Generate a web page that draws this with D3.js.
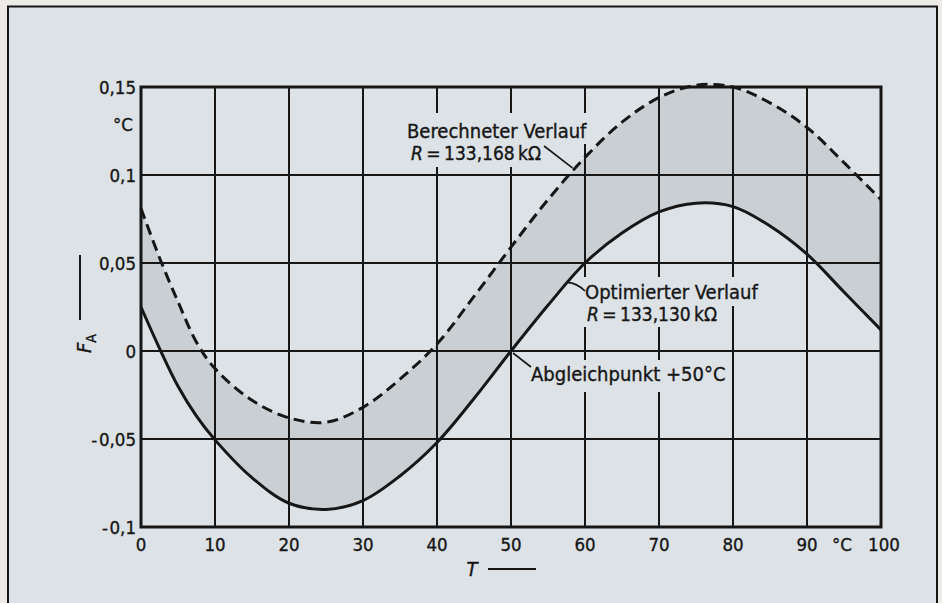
<!DOCTYPE html>
<html>
<head>
<meta charset="utf-8">
<script src="https://cdn.jsdelivr.net/npm/d3@7"></script>
<style>
  html, body { margin: 0; padding: 0; background: #ecebe7; }
  svg { display: block; }
  text { font-family: "DejaVu Sans Condensed", "DejaVu Sans", sans-serif; font-stretch: condensed;
         fill: #161616; stroke: #161616; stroke-width: 0.35px; }
</style>
</head>
<body>
<svg id="chart" width="942" height="603"></svg>
<script>
// Temperature grid (°C) on which both error curves are sampled
const temps = [0, 2.5, 5, 7.5, 10, 15, 20, 25, 30, 35, 40, 45, 50, 55, 60, 65, 70, 75, 80, 85, 90, 95, 100];
// Calculated course, R = 133,168 kΩ (dashed)
const calculated = [0.081, 0.053, 0.028, 0.005, -0.010, -0.028, -0.038, -0.0405, -0.032, -0.016, 0.004, 0.031, 0.059, 0.086, 0.110, 0.130, 0.144, 0.151, 0.150, 0.141, 0.127, 0.107, 0.086];
// Optimised course, R = 133,130 kΩ (solid)
const optimized = [0.025, 0.0015, -0.020, -0.037, -0.0505, -0.072, -0.0865, -0.090, -0.085, -0.071, -0.052, -0.027, 0.0, 0.026, 0.050, 0.067, 0.079, 0.084, 0.082, 0.071, 0.055, 0.0335, 0.012];

const xTicks = [0, 10, 20, 30, 40, 50, 60, 70, 80, 90, 100];
const xTickLabels = ["0", "10", "20", "30", "40", "50", "60", "70", "80", "90", "100"];
const yTicks = [-0.1, -0.05, 0, 0.05, 0.1, 0.15];
const yTickLabels = ["-\u200A0,1", "-\u200A0,05", "0", "0,05", "0,1", "0,15"];

// Annotation texts and the curve points their leaders touch (data units)
const calcNote = { lines: ["Berechneter Verlauf", "133,168 k\u03A9"], anchorT: 58.3, anchorV: 0.104 };
const optNote = { lines: ["Optimierter Verlauf", "133,130 k\u03A9"], anchorT: 57.6, anchorV: 0.039 };
const balanceNote = { text: "Abgleichpunkt +50\u00B0C", anchorT: 50, anchorV: 0 };

const svg = d3.select("#chart");
const H = 603;
const bg = "#dce2e6";
const shade = "#c9cfd3";
const ink = "#161616";
const fsTick = 18.5, fsNote = 20, fsR = 19;

const x = d3.scaleLinear().domain([0, 100]).range([141, 881]);
const y = d3.scaleLinear().domain([-0.1, 0.15]).range([527, 87]);

// Sheet background and outer frame
svg.append("rect").attr("x", 8).attr("y", 6).attr("width", 929).attr("height", H - 6).attr("fill", bg);
svg.append("path")
  .attr("d", `M8,${H} V6.5 H937 V${H}`)
  .attr("fill", "none").attr("stroke", ink).attr("stroke-width", 2);

// Band between the two curves
const rows = temps.map((t, i) => ({ t, c: calculated[i], o: optimized[i] }));
const curve = d3.curveCatmullRom.alpha(0.5);
svg.append("path")
  .datum(rows)
  .attr("fill", shade)
  .attr("d", d3.area().curve(curve).x(d => x(d.t)).y0(d => y(d.o)).y1(d => y(d.c)));

// Grid
const grid = svg.append("g").attr("stroke", ink).attr("stroke-width", 2);
grid.selectAll("line.v").data(xTicks).join("line")
  .attr("x1", d => x(d)).attr("x2", d => x(d))
  .attr("y1", y(0.15)).attr("y2", y(-0.1));
grid.selectAll("line.h").data(yTicks).join("line")
  .attr("x1", x(0)).attr("x2", x(100))
  .attr("y1", d => y(d)).attr("y2", d => y(d));
svg.append("rect")
  .attr("x", x(0)).attr("y", y(0.15))
  .attr("width", x(100) - x(0)).attr("height", y(-0.1) - y(0.15))
  .attr("fill", "none").attr("stroke", ink).attr("stroke-width", 3);

// Label backgrounds interrupt the grid
const knock = [
  [400, 113, 194, 31], [403, 140, 136, 27],
  [578, 277, 196, 29], [580, 303, 143, 24],
  [526, 360, 200, 32]
];
svg.selectAll("rect.knock").data(knock).join("rect")
  .attr("x", d => d[0]).attr("y", d => d[1]).attr("width", d => d[2]).attr("height", d => d[3])
  .attr("fill", bg);

// Curves
const line = (key) => d3.line().curve(curve).x(d => x(d.t)).y(d => y(d[key]));
svg.append("path").datum(rows)
  .attr("fill", "none").attr("stroke", ink).attr("stroke-width", 3)
  .attr("stroke-dasharray", "11 6")
  .attr("d", line("c"));
svg.append("path").datum(rows)
  .attr("fill", "none").attr("stroke", ink).attr("stroke-width", 3)
  .attr("d", line("o"));

// Axis tick labels
svg.selectAll("text.yt").data(yTicks).join("text")
  .attr("x", 136).attr("y", d => y(d)).attr("dy", "0.36em")
  .attr("text-anchor", "end").attr("font-size", fsTick)
  .text((d, i) => yTickLabels[i]);
svg.append("text").attr("x", 133).attr("y", 124).attr("dy", "0.36em")
  .attr("text-anchor", "end").attr("font-size", fsTick).text("\u00B0C");

svg.selectAll("text.xt").data(xTicks).join("text")
  .attr("x", d => x(d) + (d === 100 ? 3 : 0)).attr("y", 544).attr("dy", "0.36em")
  .attr("text-anchor", "middle").attr("font-size", fsTick)
  .text((d, i) => xTickLabels[i]);
svg.append("text").attr("x", 842).attr("y", 544).attr("dy", "0.36em")
  .attr("text-anchor", "middle").attr("font-size", fsTick).text("\u00B0C");

// Axis titles with their arrow strokes
const fa = svg.append("text").attr("transform", "translate(91,353) rotate(-90)")
  .attr("font-size", fsNote);
fa.append("tspan").attr("font-style", "italic").text("F");
fa.append("tspan").attr("font-size", 14).attr("dy", 5).text("A");
svg.append("line").attr("x1", 80).attr("x2", 80).attr("y1", 255).attr("y2", 320)
  .attr("stroke", ink).attr("stroke-width", 2);

svg.append("text").attr("x", 472).attr("y", 569).attr("dy", "0.36em")
  .attr("text-anchor", "middle").attr("font-size", fsNote).attr("font-style", "italic").text("T");
svg.append("line").attr("x1", 488).attr("x2", 536).attr("y1", 569).attr("y2", 569)
  .attr("stroke", ink).attr("stroke-width", 2);

// Annotations
function rLine(xPos, yPos, value) {
  const t = svg.append("text").attr("x", xPos).attr("y", yPos).attr("dy", "0.36em").attr("font-size", fsR);
  t.append("tspan").attr("font-style", "italic").text("R");
  t.append("tspan").text("\u2009=\u2009" + value.replace(" ", "\u2009"));
  return t;
}
svg.append("text").attr("x", 407).attr("y", 131).attr("dy", "0.36em").attr("font-size", fsNote).text(calcNote.lines[0]);
const calcR = rLine(411, 153, calcNote.lines[1]);
const cb = calcR.node().getBBox();
svg.append("line")
  .attr("x1", cb.x + cb.width + 3).attr("y1", 146)
  .attr("x2", x(calcNote.anchorT)).attr("y2", y(calcNote.anchorV))
  .attr("stroke", ink).attr("stroke-width", 1.6);

svg.append("text").attr("x", 585).attr("y", 292).attr("dy", "0.36em").attr("font-size", fsNote).text(optNote.lines[0]);
rLine(587, 314, optNote.lines[1]);
svg.append("path")
  .attr("d", `M585,291 Q577,283 ${x(optNote.anchorT)},${y(optNote.anchorV)}`)
  .attr("fill", "none").attr("stroke", ink).attr("stroke-width", 1.6);

svg.append("text").attr("x", 531).attr("y", 374).attr("dy", "0.36em").attr("font-size", fsNote).text(balanceNote.text);
svg.append("line")
  .attr("x1", x(balanceNote.anchorT) + 2).attr("y1", y(balanceNote.anchorV) + 2)
  .attr("x2", 531).attr("y2", 367)
  .attr("stroke", ink).attr("stroke-width", 1.6);
</script>
</body>
</html>
